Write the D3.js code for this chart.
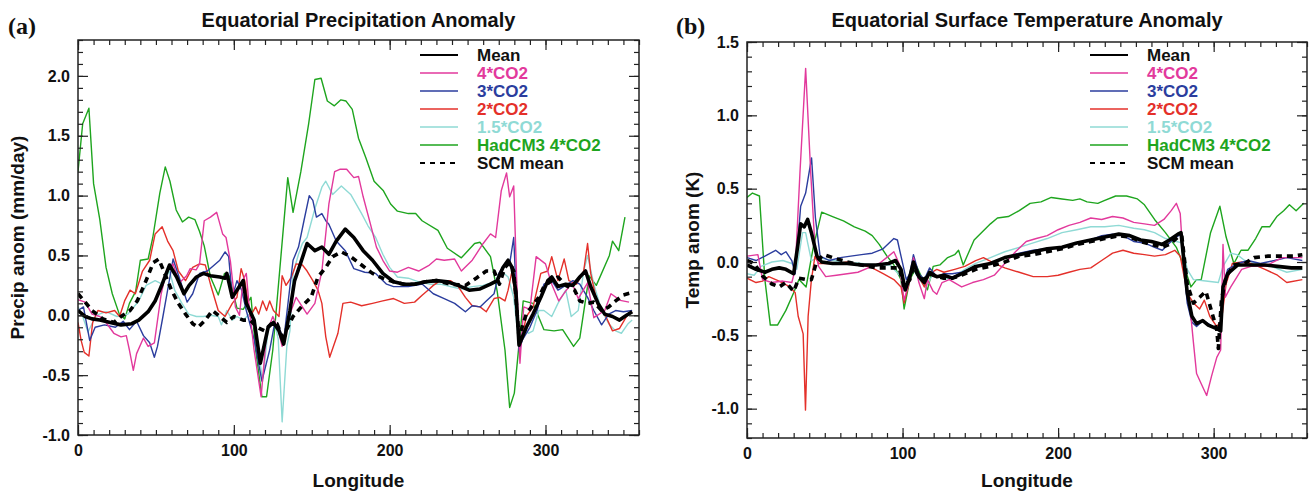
<!DOCTYPE html>
<html>
<head>
<meta charset="utf-8">
<script src="https://cdn.jsdelivr.net/npm/d3@7"></script>
<style>
  body { margin: 0; background: #fff; }
  svg text { font-family: "Liberation Sans", Arial, sans-serif; font-weight: bold; fill: #111; }
</style>
</head>
<body>
<svg id="chart" width="1312" height="494"></svg>
<script>
// ---- panel (a): equatorial precipitation anomaly (mm/day), [longitude, value]
const precipMean = [[0,0.04],[4.6,-0.01],[9,-0.03],[14,-0.04],[20.7,-0.06],[27.6,-0.08],[34.5,-0.07],[39,-0.04],[45,0.03],[49.5,0.12],[54,0.26],[58.7,0.42],[63.3,0.32],[68,0.18],[71.3,0.25],[76,0.32],[80.5,0.35],[85,0.33],[91,0.32],[94.4,0.31],[95.5,0.35],[99,0.15],[102,0.21],[106,0.29],[108,0.1],[113,-0.04],[117,-0.4],[122,-0.1],[125.4,-0.06],[129,-0.13],[132,-0.24],[136,0.04],[139,0.29],[142.7,0.43],[147,0.6],[152,0.54],[156.5,0.57],[161,0.51],[165.7,0.62],[171.5,0.72],[177,0.65],[183,0.54],[189,0.46],[195.6,0.35],[202.5,0.28],[209.4,0.26],[216,0.26],[223,0.28],[230,0.29],[237,0.28],[244,0.25],[251,0.21],[258,0.22],[264.7,0.26],[269,0.29],[272.7,0.4],[276,0.46],[278.5,0.4],[281,0.2],[283,-0.25],[287.7,-0.1],[292,0.01],[297,0.15],[301.5,0.29],[304,0.32],[308,0.24],[313,0.26],[317.6,0.25],[322,0.32],[325.7,0.37],[329,0.24],[333.7,0.1],[338,0.01],[343,-0.01],[347.5,-0.04],[352,0.0],[355.6,0.03]];
const precip4x = [[0,0.13],[4.6,0.11],[9,0.01],[14,-0.01],[18,-0.06],[23,-0.15],[27.6,-0.18],[31,-0.17],[33,-0.29],[35.5,-0.46],[37.6,-0.32],[42,-0.19],[45,-0.26],[49,-0.23],[53.4,0.18],[56.6,0.36],[61,0.43],[65,0.27],[69.7,0.33],[72,0.39],[75.8,0.38],[78,0.43],[81,0.79],[85,0.82],[89,0.86],[92.8,0.68],[95,0.65],[97.8,0.45],[101,0.07],[103.6,0.0],[106,0.3],[108,0.35],[110,0.05],[113,-0.29],[117.5,-0.68],[121,-0.15],[125,-0.01],[128,-0.1],[131,-0.26],[136,0.01],[140,0.15],[147,0.01],[152,0.1],[156.5,0.37],[161,0.93],[164.7,1.2],[168,1.22],[172.4,1.22],[177,1.15],[180,1.16],[183,0.99],[187.5,0.77],[191.5,0.57],[196,0.45],[200,0.37],[205,0.36],[212,0.4],[218.6,0.37],[225.5,0.42],[230,0.47],[235,0.46],[241.7,0.47],[246,0.37],[253,0.46],[260,0.6],[264.7,0.68],[268,0.65],[271.6,1.04],[275,1.19],[277,0.99],[279.6,1.08],[281.5,0.3],[283.6,-0.4],[286,0.07],[290,0.05],[294,0.49],[300,0.43],[304,0.26],[308.5,0.12],[312.8,0.2],[317,0.27],[321,0.14],[327,0.27],[331,-0.02],[338,0.04],[342,0.18],[348,0.125],[353.6,0.11]];
const precip3x = [[0,0.04],[3.5,0.07],[7.5,-0.21],[11,-0.1],[17,-0.08],[24,-0.1],[29,-0.05],[33,-0.12],[37.6,-0.05],[42,-0.17],[46,-0.23],[49,-0.35],[51,-0.26],[54.5,-0.01],[59,0.32],[61,0.47],[65.6,0.29],[70,0.11],[73.6,0.18],[78,0.35],[83,0.37],[91,0.46],[94.4,0.53],[96.7,0.49],[99,0.15],[102,0.29],[105,0.21],[108,0.04],[113,-0.2],[118,-0.55],[123,-0.29],[126,-0.08],[129,-0.1],[132,-0.21],[136,0.24],[138,0.46],[141.5,0.57],[145,0.79],[148.4,1.0],[150.7,0.96],[153,0.82],[156.5,0.85],[159,0.79],[161,0.76],[165.7,0.62],[171.5,0.54],[177,0.39],[184,0.36],[191,0.35],[198,0.26],[202.5,0.24],[212,0.24],[221,0.26],[228,0.18],[235,0.14],[241.7,0.1],[248.6,0.03],[253,0.08],[258,0.07],[262,0.12],[267,0.18],[270,0.35],[274,0.43],[277,0.43],[279.6,0.65],[281.5,0.1],[283,-0.3],[285,-0.21],[290,-0.1],[294.6,0.04],[299,0.26],[304,0.29],[308,0.21],[313,0.25],[317.6,0.29],[322,0.26],[327,0.15],[331,0.04],[336,-0.08],[340.6,0.01],[345,0.04],[350,0.03],[355.6,0.04]];
const precip2x = [[0,-0.06],[2,-0.21],[4,-0.31],[7,-0.34],[9.4,-0.06],[12.8,0.04],[18,0.02],[23.5,0.04],[26.7,-0.01],[29.9,0.12],[33.4,0.21],[36.8,0.18],[41.4,0.37],[46,0.46],[49.5,0.68],[54,0.74],[57.5,0.62],[61,0.54],[64.4,0.37],[69,0.29],[73.6,0.4],[78,0.43],[81.7,0.42],[85,0.26],[90,0.04],[94.4,-0.01],[99,0.1],[102,0.15],[104.7,0.39],[107,0.29],[110.5,-0.01],[114,0.07],[116,0.01],[118.5,0.12],[121,0.04],[123,0.12],[125.4,0.04],[129,-0.01],[131,0.33],[133.5,0.25],[137,0.32],[140,0.43],[144,0.42],[147,0.37],[150.7,0.29],[154,0.21],[156.5,0.1],[159,-0.18],[161.5,-0.35],[166.8,-0.15],[170,0.1],[175,0.11],[182,0.08],[189,0.1],[195.6,0.12],[202.5,0.14],[209.4,0.1],[216,0.11],[221,0.17],[225.5,0.22],[228,0.25],[232.5,0.29],[239,0.29],[244,0.24],[248.6,0.15],[253,0.08],[258,0.07],[262,0.03],[267,0.14],[270.4,0.15],[274,0.12],[276,0.21],[278.5,0.37],[281,0.1],[284,-0.24],[287.7,-0.01],[292,0.07],[297,0.35],[301.5,0.37],[304,0.49],[308,0.29],[312,0.47],[315,0.29],[320,0.26],[324.5,0.37],[327,0.6],[329,0.35],[333.7,0.07],[338,0.01],[343,-0.13],[347.5,-0.11],[352,-0.01],[355.6,0.03]];
const precip15x = [[0,0.07],[3,-0.01],[6.4,-0.14],[9.4,-0.06],[11.5,0.0],[18,0.03],[25,-0.01],[32,0.01],[39,0.12],[43.7,0.25],[49.5,0.29],[54,0.26],[58.7,0.37],[62,0.21],[66.7,0.1],[71,0.01],[76,-0.01],[80.5,-0.01],[85,0.0],[90,-0.01],[92,-0.08],[95.5,0.04],[99,-0.04],[102,-0.01],[106,-0.04],[110,0.01],[114,-0.13],[118.5,-0.55],[122,-0.12],[126,-0.05],[128.5,-0.2],[131,-0.89],[134,-0.26],[136,-0.13],[138,0.35],[141.5,0.51],[144,0.6],[147,0.65],[152,0.89],[156.5,1.07],[159,1.12],[163.4,1.01],[169,1.08],[175,1.01],[182,0.85],[186,0.75],[191,0.65],[195.6,0.51],[200,0.4],[205,0.32],[212,0.31],[218.6,0.28],[225.5,0.26],[232.5,0.26],[239,0.24],[246,0.22],[253,0.24],[260,0.25],[267,0.28],[271.6,0.37],[276,0.32],[279.6,0.15],[283,-0.24],[285.4,-0.1],[289,-0.15],[292,-0.13],[295.7,0.04],[299,0.04],[304,-0.01],[308,0.1],[313,0.21],[316.5,-0.01],[321,0.04],[324.5,0.37],[327,0.5],[331,0.26],[336,0.04],[340.6,-0.07],[345,-0.13],[348.7,-0.15],[353,-0.07],[355.6,-0.04]];
const precipHad = [[0,1.2],[3,1.6],[7,1.73],[10,1.1],[14,0.8],[18,0.4],[22,0.18],[26.5,0.01],[30,-0.03],[33,0.1],[37,0.2],[40,0.46],[45,0.47],[48,0.65],[52.5,1.02],[56,1.24],[59,1.12],[63,0.88],[67,0.78],[71,0.82],[75,0.8],[78,0.7],[81,0.58],[85,0.32],[90,0.17],[94,0.35],[97,0.33],[102,0.06],[106,0.05],[111,0.15],[114,-0.29],[118,-0.68],[121,-0.68],[125,-0.29],[134.6,1.15],[138,0.86],[143,1.2],[148,1.6],[152,1.97],[156,1.98],[160,1.79],[164.5,1.75],[168.7,1.8],[172,1.79],[176,1.72],[180,1.48],[184.6,1.32],[190,1.12],[196,1.04],[200.6,0.93],[205,0.87],[212,0.85],[216.7,0.85],[220.8,0.79],[231,0.71],[237,0.56],[246,0.48],[254.5,0.6],[258,0.61],[264.7,0.49],[269,0.2],[274,-0.29],[277,-0.77],[280,-0.65],[285.7,0.12],[292,0.1],[299,-0.12],[305.5,-0.13],[311,-0.12],[318,-0.26],[322,-0.19],[328,0.33],[332.6,0.25],[341,0.5],[343,0.62],[347,0.54],[351,0.82]];
const precipScm = [[0,0.18],[4.6,0.11],[9,0.04],[16,-0.03],[23,-0.06],[27.6,-0.01],[33.4,0.04],[38,0.12],[43.7,0.29],[48.3,0.44],[51.8,0.47],[55,0.37],[60,0.21],[64.4,0.1],[69,0.01],[73.6,-0.07],[77,-0.1],[81.7,-0.04],[86.3,0.04],[91,-0.01],[95.5,-0.06],[100,-0.01],[106,-0.04],[110.5,-0.04],[115,-0.1],[119.7,-0.13],[124,-0.07],[127.7,-0.07],[131,-0.18],[134.6,-0.1],[138,-0.01],[144,0.08],[149.6,0.15],[154,0.32],[159,0.4],[163.4,0.49],[169,0.53],[175,0.49],[182,0.42],[189,0.35],[195.6,0.31],[202.5,0.28],[209,0.26],[216,0.26],[223,0.28],[230,0.29],[239,0.26],[248.6,0.25],[255.5,0.31],[262,0.37],[267,0.37],[270.4,0.26],[274,0.4],[277,0.44],[279.6,0.37],[283,-0.18],[287.7,0.01],[291,0.07],[295.7,0.15],[299,0.24],[304,0.29],[308,0.32],[313,0.25],[318.7,0.21],[322,0.12],[327,0.1],[331,0.11],[336,0.04],[340.6,0.07],[345,0.12],[350,0.17],[355.6,0.19]];

// ---- panel (b): equatorial surface temperature anomaly (K)
const tempMean = [[0,-0.02],[5.8,-0.05],[11.5,-0.07],[16,-0.05],[20.7,-0.04],[25,-0.05],[30,-0.08],[32.5,0.1],[34.5,0.26],[36.8,0.24],[39,0.29],[41.4,0.2],[45,0.04],[48,0.0],[55,-0.01],[64.4,-0.01],[73.6,-0.02],[83,-0.02],[91,-0.01],[95.5,0.01],[99,-0.05],[101.7,-0.19],[104.7,-0.1],[107,0.0],[110.5,-0.1],[114,-0.14],[117.4,-0.07],[122,-0.1],[126.6,-0.09],[132,-0.11],[138,-0.08],[147,-0.03],[156.5,-0.01],[165.7,0.03],[175,0.05],[184,0.07],[193,0.09],[202.5,0.1],[212,0.13],[221,0.15],[230,0.17],[239,0.19],[246,0.18],[253,0.15],[260,0.14],[267,0.12],[271.6,0.15],[277,0.19],[279,0.2],[283,-0.21],[286,-0.37],[289,-0.42],[293,-0.4],[296.5,-0.43],[303,-0.46],[304.5,-0.47],[306,-0.17],[309,-0.08],[315.5,-0.02],[324,-0.02],[333,-0.02],[341,-0.03],[350,-0.04],[357,-0.04]];
const temp4x = [[0,0.04],[7,0.05],[10,-0.12],[16,-0.14],[23,-0.13],[28.8,-0.14],[31,-0.05],[34,0.6],[37.7,1.32],[41,0.6],[43.7,0.1],[46,-0.03],[50.6,-0.1],[57.5,-0.09],[64.4,-0.08],[71.3,-0.07],[78,-0.04],[85,-0.01],[91,0.04],[94.4,0.07],[97.8,-0.01],[101,-0.26],[104.7,-0.12],[107,0.03],[110.5,-0.14],[114,-0.25],[116,-0.12],[119.7,-0.2],[122,-0.22],[125.4,-0.14],[130,-0.12],[138,-0.17],[145,-0.14],[152,-0.12],[159,-0.09],[165.7,-0.01],[172.6,0.07],[179.5,0.14],[186,0.16],[193,0.18],[200,0.22],[207,0.25],[214,0.27],[221,0.3],[228,0.29],[235,0.31],[241.7,0.3],[248.6,0.27],[255.5,0.26],[262,0.25],[268,0.29],[272.7,0.35],[276,0.4],[278.5,0.33],[280.8,-0.05],[283,-0.2],[285,-0.33],[287,-0.55],[289,-0.76],[292,-0.83],[295.5,-0.91],[298.6,-0.78],[302,-0.65],[304.5,-0.6],[306,0.12],[307.5,-0.24],[311,-0.17],[318,-0.05],[324,-0.03],[333,-0.03],[344,0.03],[350,0.03],[357,0.03]];
const temp3x = [[0,0.03],[5.8,0.01],[11.5,0.04],[18.4,0.08],[22,0.05],[25,0.07],[28.8,0.01],[31,-0.08],[34.5,0.38],[37.7,0.47],[41.5,0.71],[44,0.3],[47,0.04],[53,0.01],[60,0.03],[66.7,0.04],[73.6,0.05],[80.5,0.06],[87.5,0.09],[94.4,0.16],[96.7,0.15],[99,0.04],[102.4,-0.12],[104.7,-0.08],[107,0.05],[110.5,-0.08],[114,-0.12],[117.4,-0.04],[122,-0.1],[126.6,-0.08],[132,-0.08],[138,-0.07],[147,-0.03],[156.5,-0.01],[165.7,0.03],[175,0.06],[184,0.08],[193,0.09],[202.5,0.1],[212,0.13],[221,0.15],[228,0.18],[235,0.19],[241.7,0.18],[248.6,0.14],[255.5,0.13],[262,0.1],[267,0.08],[271.6,0.13],[276,0.17],[279,0.19],[283,-0.28],[286,-0.41],[289,-0.44],[293,-0.4],[296.5,-0.42],[300.8,-0.45],[304,-0.47],[306,-0.16],[309,-0.05],[315.5,-0.01],[322,0.01],[330,-0.01],[339,0.01],[347,0.03],[357,0.01]];
const temp2x = [[0,-0.11],[5.8,-0.14],[10,-0.13],[14,-0.1],[20.7,-0.13],[27.6,-0.17],[31,-0.21],[32.9,-0.37],[36.1,-0.49],[37.6,-1.01],[39.3,-0.37],[41.4,-0.12],[43.7,0.04],[46,-0.01],[55,-0.01],[64.4,0.0],[73.6,-0.02],[80.5,-0.04],[87.5,-0.08],[94.4,-0.12],[99,-0.17],[101,-0.28],[104.7,-0.12],[107,0.01],[110.5,-0.1],[114,-0.17],[117.4,-0.08],[122,-0.05],[126.6,-0.07],[133.5,-0.05],[140,-0.03],[147,0.01],[152,0.03],[159,-0.01],[165.7,-0.04],[175,-0.07],[184,-0.1],[193,-0.1],[200,-0.09],[207,-0.07],[214,-0.05],[221,-0.04],[228,0.01],[235,0.06],[241.7,0.08],[248.6,0.06],[255.5,0.05],[262,0.04],[269,0.05],[275,0.08],[278.5,0.04],[283,-0.21],[287,-0.28],[291,-0.32],[294,-0.26],[297.5,-0.37],[302,-0.44],[305,-0.4],[308,-0.15],[312,-0.01],[318,0.0],[324,-0.01],[333,-0.05],[341,-0.09],[347,-0.14],[357,-0.12]];
const temp15x = [[0,-0.08],[4.6,-0.09],[9,-0.03],[16,0.0],[23,0.01],[28.8,-0.01],[32,-0.05],[35.7,0.2],[37.7,0.2],[39,0.13],[41.4,0.01],[46,0.03],[55,0.01],[64.4,0.0],[73.6,-0.01],[83,-0.02],[92,-0.02],[99,-0.1],[102.4,-0.19],[106,-0.03],[110.5,-0.12],[115,-0.17],[119.7,-0.08],[126.6,-0.12],[133.5,-0.1],[140,-0.05],[147,-0.01],[156.5,0.03],[165.7,0.07],[175,0.1],[184,0.13],[193,0.16],[202.5,0.2],[212,0.22],[221,0.24],[230,0.24],[239,0.25],[248.6,0.23],[255.5,0.22],[262,0.2],[269,0.16],[276,0.14],[279.5,0.13],[283,-0.05],[287,-0.12],[295,-0.13],[303,-0.14],[306,-0.03],[311,0.06],[315,0.05],[320,0.01],[328,-0.01],[337,-0.03],[347,-0.07],[357,-0.05]];
const tempHad = [[0,0.44],[3.5,0.47],[8,0.45],[11.5,-0.12],[15,-0.43],[19.6,-0.43],[25,-0.33],[30,-0.21],[33.4,-0.12],[38,-0.17],[42.6,0.1],[48,0.34],[55,0.31],[62,0.28],[69,0.24],[76,0.21],[80.5,0.18],[85,0.12],[90,0.04],[94.4,-0.02],[99,-0.12],[101,-0.32],[104.7,-0.12],[109,-0.03],[113,-0.12],[116,-0.19],[119.7,-0.03],[124,-0.02],[129,0.03],[133.5,0.05],[136,0.08],[139,-0.02],[142.7,0.07],[146,0.15],[150.7,0.2],[156.5,0.26],[161,0.3],[168,0.31],[175,0.35],[182,0.4],[189,0.41],[195.6,0.44],[202.5,0.43],[209.4,0.42],[214,0.43],[218.6,0.41],[225.5,0.4],[230,0.42],[237,0.45],[244,0.45],[251,0.43],[255.5,0.39],[262,0.29],[269,0.2],[276,0.1],[281,-0.03],[285.4,-0.17],[289,-0.12],[292,-0.12],[298,0.2],[304,0.38],[308,0.17],[313,-0.01],[317.6,0.08],[322,0.08],[327,0.16],[331,0.24],[336,0.24],[340.6,0.31],[345,0.35],[348.7,0.39],[353,0.35],[357.9,0.4]];
const tempScm = [[0,0.01],[4.6,-0.01],[10.4,-0.1],[16,-0.15],[20.7,-0.17],[25,-0.14],[30,-0.2],[33.4,-0.11],[38,-0.12],[41.4,-0.12],[45,0.01],[49.5,0.05],[55,0.03],[64.4,0.0],[73.6,-0.02],[83,-0.04],[92,-0.04],[97.8,-0.04],[101,-0.17],[104.7,-0.12],[107,-0.03],[110.5,-0.1],[114,-0.12],[117.4,-0.08],[122,-0.1],[126.6,-0.11],[132,-0.11],[138,-0.09],[147,-0.05],[156.5,-0.03],[165.7,0.0],[175,0.04],[184,0.05],[193,0.07],[202.5,0.09],[212,0.12],[221,0.14],[230,0.16],[239,0.18],[246,0.17],[253,0.14],[260,0.12],[267,0.1],[271.6,0.12],[277,0.17],[279.5,0.18],[283,-0.15],[287,-0.28],[291,-0.24],[295,-0.2],[299,-0.35],[302,-0.46],[303,-0.59],[305,-0.26],[308,-0.1],[313,-0.02],[320,-0.01],[326,0.03],[335,0.04],[343,0.04],[351,0.04],[357,0.05]];

const legendNames = ['Mean', '4*CO2', '3*CO2', '2*CO2', '1.5*CO2', 'HadCM3 4*CO2', 'SCM mean'];
const xTicks = [0, 100, 200, 300];

const style = {
  'Mean':         { color: '#000', width: 3.6, dash: null },
  '4*CO2':        { color: '#e2399c', width: 1.4, dash: null },
  '3*CO2':        { color: '#2b3d9e', width: 1.4, dash: null },
  '2*CO2':        { color: '#e4302a', width: 1.4, dash: null },
  '1.5*CO2':      { color: '#8fdad5', width: 1.4, dash: null },
  'HadCM3 4*CO2': { color: '#1ea51e', width: 1.4, dash: null },
  'SCM mean':     { color: '#000', width: 3.6, dash: '6,5' }
};
// drawing order: thin lines first, black ones on top
const drawOrder = ['HadCM3 4*CO2', '1.5*CO2', '2*CO2', '3*CO2', '4*CO2', 'SCM mean', 'Mean'];

const svg = d3.select('#chart');

function drawPanel(p) {
  const x = d3.scaleLinear().domain([0, 360]).range([p.left, p.right]);
  const y = d3.scaleLinear().domain(p.yDomain).range([p.bottom, p.top]);
  const g = svg.append('g');

  const clipId = 'clip-' + p.tag;
  g.append('clipPath').attr('id', clipId)
    .append('rect')
    .attr('x', p.left).attr('y', p.top)
    .attr('width', p.right - p.left).attr('height', p.bottom - p.top);

  const line = d3.line().x(d => x(d[0])).y(d => y(d[1]));
  const lines = g.append('g').attr('clip-path', `url(#${clipId})`);
  drawOrder.forEach(name => {
    const s = style[name];
    lines.append('path')
      .datum(p.series[name])
      .attr('d', line)
      .attr('fill', 'none')
      .attr('stroke', s.color)
      .attr('stroke-width', s.width)
      .attr('stroke-linejoin', 'round')
      .attr('stroke-dasharray', s.dash);
  });

  // axes, ticks point inward like the IDL original
  const yMajor = d3.range(Math.ceil(p.yDomain[0] * 2) / 2, p.yDomain[1] + 1e-9, 0.5);
  const yMinor = d3.range(Math.ceil(p.yDomain[0] * 10), Math.floor(p.yDomain[1] * 10) + 1).map(v => v / 10);
  const xMinor = d3.range(0, 361, 10);

  const addAxis = (axis, transform, labels) => {
    const a = g.append('g').attr('transform', transform).call(axis);
    a.select('.domain').remove();
    a.selectAll('line').attr('stroke', '#222').attr('stroke-width', 1.2);
    if (!labels) a.selectAll('text').remove();
    else a.selectAll('text').attr('font-size', 16).attr('fill', '#111').attr('font-family', null);
    return a;
  };

  addAxis(d3.axisLeft(y).tickValues(yMinor).tickSize(-5).tickFormat(''), `translate(${p.left},0)`, false);
  addAxis(d3.axisLeft(y).tickValues(yMajor).tickSize(-10).tickPadding(8).tickFormat(d => d.toFixed(1)), `translate(${p.left},0)`, true);
  addAxis(d3.axisRight(y).tickValues(yMinor).tickSize(-5).tickFormat(''), `translate(${p.right},0)`, false);
  addAxis(d3.axisRight(y).tickValues(yMajor).tickSize(-10).tickFormat(''), `translate(${p.right},0)`, false);
  addAxis(d3.axisBottom(x).tickValues(xMinor).tickSize(-5).tickFormat(''), `translate(0,${p.bottom})`, false);
  addAxis(d3.axisBottom(x).tickValues(xTicks).tickSize(-10).tickPadding(10).tickFormat(d3.format('d')), `translate(0,${p.bottom})`, true);
  addAxis(d3.axisTop(x).tickValues(xMinor).tickSize(-5).tickFormat(''), `translate(0,${p.top})`, false);
  addAxis(d3.axisTop(x).tickValues(xTicks).tickSize(-10).tickFormat(''), `translate(0,${p.top})`, false);

  g.append('rect')
    .attr('x', p.left).attr('y', p.top)
    .attr('width', p.right - p.left).attr('height', p.bottom - p.top)
    .attr('fill', 'none').attr('stroke', '#222').attr('stroke-width', 1.5);

  // titles
  g.append('text')
    .attr('x', (p.left + p.right) / 2).attr('y', 27)
    .attr('text-anchor', 'middle').attr('font-size', 20)
    .text(p.title);
  g.append('text')
    .attr('x', p.panelX).attr('y', 34)
    .attr('font-size', 24)
    .style('font-family', '"Liberation Serif", "Times New Roman", serif')
    .text(p.panel);
  g.append('text')
    .attr('x', (p.left + p.right) / 2).attr('y', 487)
    .attr('text-anchor', 'middle').attr('font-size', 19)
    .text('Longitude');
  g.append('text')
    .attr('transform', `translate(${p.yLabelX},${(p.top + p.bottom) / 2}) rotate(-90)`)
    .attr('text-anchor', 'middle').attr('font-size', 19)
    .text(p.yLabel);

  // legend
  const leg = g.append('g');
  legendNames.forEach((name, i) => {
    const s = style[name];
    const cy = 55 + i * 18;
    leg.append('line')
      .attr('x1', p.legendX).attr('x2', p.legendX + 38)
      .attr('y1', cy).attr('y2', cy)
      .attr('stroke', s.color)
      .attr('stroke-width', name === 'Mean' || name === 'SCM mean' ? 2 : 1.6)
      .attr('stroke-dasharray', s.dash ? '5,5' : null);
    leg.append('text')
      .attr('x', p.legendX + 57).attr('y', cy + 6)
      .attr('font-size', 17)
      .style('fill', s.color === '#000' ? '#111' : s.color)
      .text(name);
  });
}

drawPanel({
  tag: 'a', panel: '(a)', panelX: 8,
  title: 'Equatorial Precipitation Anomaly',
  yLabel: 'Precip anom (mm/day)', yLabelX: 24,
  left: 78, right: 639, top: 40, bottom: 435,
  yDomain: [-1.0, 2.3], legendX: 420,
  series: {
    'Mean': precipMean, '4*CO2': precip4x, '3*CO2': precip3x, '2*CO2': precip2x,
    '1.5*CO2': precip15x, 'HadCM3 4*CO2': precipHad, 'SCM mean': precipScm
  }
});

drawPanel({
  tag: 'b', panel: '(b)', panelX: 676,
  title: 'Equatorial Surface Temperature Anomaly',
  yLabel: 'Temp anom (K)', yLabelX: 699,
  left: 747, right: 1307, top: 42, bottom: 438,
  yDomain: [-1.2, 1.5], legendX: 1090,
  series: {
    'Mean': tempMean, '4*CO2': temp4x, '3*CO2': temp3x, '2*CO2': temp2x,
    '1.5*CO2': temp15x, 'HadCM3 4*CO2': tempHad, 'SCM mean': tempScm
  }
});
</script>
</body>
</html>
